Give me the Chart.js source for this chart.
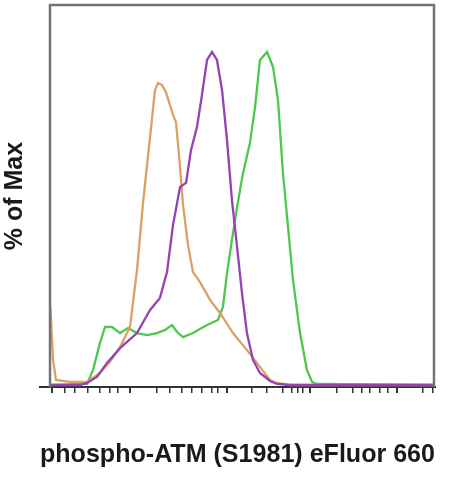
<!DOCTYPE html>
<html>
<head>
<meta charset="utf-8">
<script src="https://cdn.jsdelivr.net/npm/chart.js@4"></script>
<style>
  html, body { margin: 0; padding: 0; background: #fff; }
  #wrap { width: 457px; height: 480px; }
</style>
</head>
<body>
<div id="wrap"><canvas id="histo" width="457" height="480"></canvas></div>
<script>
/////////////////////////////// data //////////////////////////////////

// channel positions (0-256) and % of Max for each histogram
const orangeX = [0.3, 2, 4, 13.3, 24.7, 33.3, 40, 46.7, 53.3, 58, 62, 66.7, 70, 72, 74.7, 77.3, 80, 82, 84, 86, 88.7, 92, 95.3, 100, 106.7, 113.3, 122, 131.3, 140, 146.7, 151.3, 160, 256];
const orangeY = [23.9, 8.1, 2.1, 1.5, 1.5, 4.2, 7.5, 11.9, 17.9, 34.9, 54.9, 74.6, 88.6, 90.7, 90.1, 88.0, 84.1, 81.2, 79.1, 69.2, 54.3, 42.4, 34.3, 31.3, 26.0, 22.1, 16.1, 11.0, 6.0, 2.1, 1.2, 0.6, 0.6];

const purpleX = [0, 20, 24.7, 31.3, 38, 46.7, 58, 66.7, 73.3, 78, 82, 86.7, 90.7, 94, 98, 101.3, 104.7, 108, 111.3, 114.7, 118, 121.3, 124.7, 128, 131.3, 135.3, 140, 146.7, 151.3, 160, 256];
const purpleY = [0.6, 0.6, 1.2, 3.0, 7.2, 11.6, 16.1, 23.0, 26.6, 34.3, 48.3, 59.7, 60.9, 70.7, 77.6, 87.1, 97.6, 100, 97.6, 88.6, 73.7, 55.8, 41.8, 28.0, 16.1, 8.1, 4.2, 1.8, 0.9, 0.6, 0.6];

const greenX = [0, 24.7, 28.7, 33.3, 36.7, 41.3, 46.7, 52, 58, 64.7, 71.3, 76.7, 81.3, 84.7, 88.7, 95.3, 104.7, 112, 115.3, 118, 121.3, 124.7, 128.7, 133.3, 136.7, 140, 144.7, 148.7, 152, 155.3, 158.7, 162, 166.7, 171.3, 174.7, 178, 256];
const greenY = [0.6, 0.9, 5.1, 13.1, 17.9, 17.9, 16.1, 17.6, 16.1, 15.5, 16.1, 17.0, 18.5, 16.4, 14.9, 16.1, 18.5, 20.0, 23.9, 34.0, 43.9, 53.7, 63.9, 72.8, 83.6, 97.6, 100, 95.5, 85.6, 63.9, 47.7, 31.9, 16.1, 5.1, 1.5, 0.9, 0.6];

// tick mark positions on the channel axis (no labels shown)
const majorTicks = [1.3, 53.3, 118, 173.3, 231.3];
const minorTicks = [10, 16.7, 25.3, 33.3, 40, 45.3, 71.3, 80, 88, 94.7, 101.3, 108, 112, 134.7, 144.7, 155.3, 161.3, 165.3, 168.7, 191.3, 202, 208, 213.3, 220, 225.3, 248.7, 255.3];

const xTitle = 'phospho-ATM (S1981) eFluor 660';
const yTitle = '% of Max';

/////////////////////////////// chart //////////////////////////////////

const toPoints = (xs, ys) => xs.map((x, i) => ({ x: x, y: ys[i] }));

// gray box round the plot, from channel 0 to 256
const framePlugin = {
    id: 'frame',
    afterDatasetsDraw(chart) {
        const { ctx, chartArea, scales } = chart;
        const left = scales.x.getPixelForValue(0);
        const right = scales.x.getPixelForValue(256);
        ctx.save();
        ctx.strokeStyle = '#747474';
        ctx.lineWidth = 2.5;
        ctx.beginPath();
        ctx.moveTo(left, chartArea.bottom);
        ctx.lineTo(left, chartArea.top);
        ctx.lineTo(right, chartArea.top);
        ctx.lineTo(right, chartArea.bottom);
        ctx.stroke();
        ctx.restore();
    }
};

var ctx = document.getElementById('histo').getContext('2d');

new Chart(ctx, {
    type: 'line',
    data: {
        datasets: [
            { label: 'purple', data: toPoints(purpleX, purpleY), borderColor: '#9442b4' },
            { label: 'orange', data: toPoints(orangeX, orangeY), borderColor: '#dba064' },
            { label: 'green', data: toPoints(greenX, greenY), borderColor: '#4cc84c' }
        ].map(ds => Object.assign(ds, {
            borderWidth: 2.3,
            pointRadius: 0,
            tension: 0,
            fill: false
        }))
    },
    options: {
        responsive: false,
        animation: false,
        layout: { padding: { top: 5, right: 22, left: 0, bottom: 0 } },
        scales: {
            x: {
                type: 'linear',
                min: -6.67,
                max: 256.67,
                afterBuildTicks: scale => {
                    scale.ticks = majorTicks.concat(minorTicks)
                        .sort((a, b) => a - b)
                        .map(v => ({ value: v, major: majorTicks.includes(v) }));
                },
                afterFit: scale => { scale.height = 93; },
                ticks: { display: false },
                grid: {
                    display: true,
                    drawOnChartArea: false,
                    drawTicks: true,
                    tickLength: 6,
                    color: '#333',
                    lineWidth: c => (c.tick && c.tick.major) ? 2 : 1.5
                },
                border: { display: true, color: '#333', width: 2 },
                title: {
                    display: true,
                    text: xTitle,
                    color: '#1a1a1a',
                    font: { family: 'Liberation Sans', size: 26, weight: 'bold' },
                    padding: { top: 0, bottom: 10 }
                }
            },
            y: {
                min: 0,
                max: 114,
                afterFit: scale => { scale.width = 40; },
                ticks: { display: false },
                grid: { display: false },
                border: { display: false },
                title: {
                    display: true,
                    text: yTitle,
                    color: '#1a1a1a',
                    font: { family: 'Liberation Sans', size: 25, weight: 'bold' },
                    padding: { top: 0, bottom: 0 }
                }
            }
        },
        plugins: {
            legend: { display: false },
            tooltip: { enabled: false }
        }
    },
    plugins: [framePlugin]
});
</script>
</body>
</html>
